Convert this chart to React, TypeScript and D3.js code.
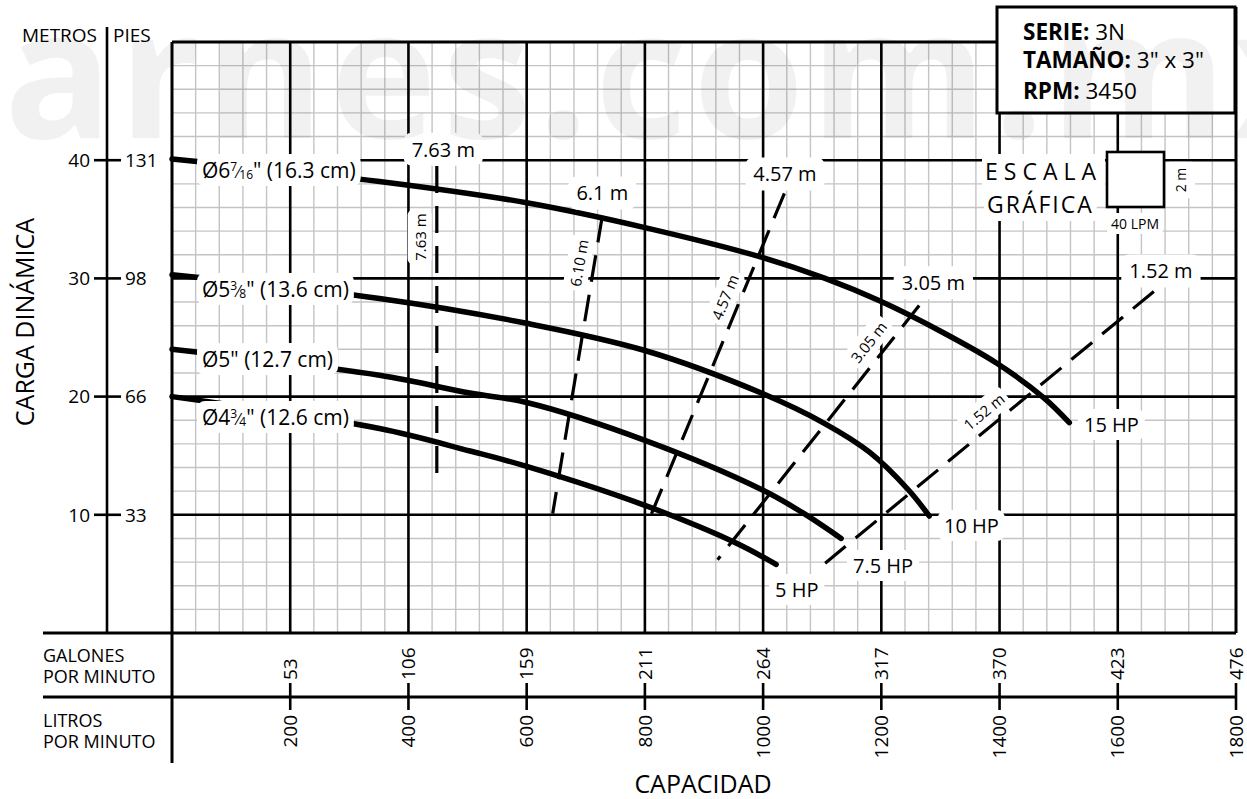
import React, { useEffect, useRef } from "react";
import * as d3 from "d3";

// ---------------- data ----------------
const lpmTicks = [200, 400, 600, 800, 1000, 1200, 1400, 1600, 1800];
const gpmTicks = [53, 106, 159, 211, 264, 317, 370, 423, 476];
const metrosTicks = [10, 20, 30, 40];
const piesTicks = [33, 66, 98, 131];

// head (m) vs capacity (LPM) for each impeller diameter
const curve163 = [[0, 40.1], [351, 38.2], [600, 36.4], [800, 34.3], [997, 31.8], [1105, 30.0], [1197, 28.1], [1305, 25.4], [1396, 22.8], [1475, 19.9], [1518, 17.8]];
const curve136 = [[0, 30.3], [351, 28.3], [600, 26.2], [800, 23.9], [997, 20.3], [1105, 17.7], [1180, 15.3], [1246, 12.1], [1281, 9.9]];
const curve127 = [[0, 24.0], [351, 21.8], [504, 20.3], [600, 19.5], [800, 16.3], [999, 12.1], [1066, 10.2], [1132, 8.0]];
const curve126 = [[0, 20.0], [351, 17.3], [504, 15.4], [600, 14.1], [800, 10.8], [955, 7.6], [1022, 5.8]];
const curves = [curve163, curve136, curve127, curve126];

const diamWhole = ["Ø6", "Ø5", "Ø5", "Ø4"];
const diamNum = ["7", "3", "", "3"];
const diamDen = ["16", "8", "", "4"];
const diamCm = ['" (16.3 cm)', '" (13.6 cm)', '" (12.7 cm)', '" (12.6 cm)'];
const hpLabels = ["15 HP", "10 HP", "7.5 HP", "5 HP"];

// NPSH lines (LPM, m): top point, bottom point
const npshNames = ["7.63 m", "6.1 m", "4.57 m", "3.05 m", "1.52 m"];
const npshSideNames = ["7.63 m", "6.10 m", "4.57 m", "3.05 m", "1.52 m"];
const npshLines = [
  [[448, 39.5], [448, 12.9]],
  [[728, 35.3], [644, 10.1]],
  [[1036, 37.2], [803, 9.1]],
  [[1264, 27.7], [923, 6.2]],
  [[1661, 28.9], [1105, 5.9]],
];

const infoKeys = ["SERIE:", "TAMAÑO:", "RPM:"];
const infoVals = [" 3N", ' 3" x 3"', " 3450"];

// ---------------- layout ----------------
const W = 1247;
const H = 799;
const FONT = "'Open Sans', 'Noto Sans', sans-serif";
const diamLabelPos = [[202, 178], [202, 297], [202, 367], [202, 425]];
const hpLabelPos = [[1084, 432], [944, 533], [853, 573], [775, 597]];
const npshTopPos = [[459, 40.3], [728, 36.6], [1037, 38.2], [1288, 29.0], [1673, 30.0]];
const npshSidePos = [[420, 33.5], [689, 31.3], [936, 28.4], [1179, 24.6], [1374, 18.7]];

export default function App() {
  const ref = useRef<SVGSVGElement>(null);

  useEffect(() => {
    const svg = d3.select(ref.current as SVGSVGElement);
    svg.selectAll("*").remove();

    const x = d3.scaleLinear().domain([0, 1800]).range([172, 1236]);
    const y = d3.scaleLinear().domain([0, 50]).range([633, 42]);

    svg.append("rect").attr("width", W).attr("height", H).attr("fill", "#fff");

    // ---- grid ----
    const grid = svg.append("g");
    const minorX = d3.range(0, 1801, 40).filter((v) => v % 200 !== 0);
    const minorY = d3.range(0, 51, 2).filter((v) => v % 10 !== 0);
    grid.selectAll("line.mx").data(minorX).join("line")
      .attr("x1", (d) => x(d)).attr("x2", (d) => x(d)).attr("y1", y(0)).attr("y2", y(50))
      .attr("stroke", "#c4c4c4").attr("stroke-width", 1.4);
    grid.selectAll("line.my").data(minorY).join("line")
      .attr("y1", (d) => y(d)).attr("y2", (d) => y(d)).attr("x1", x(0)).attr("x2", x(1800))
      .attr("stroke", "#c4c4c4").attr("stroke-width", 1.4);
    grid.selectAll("line.Mx").data(lpmTicks.filter((d) => d < 1800)).join("line")
      .attr("x1", (d) => x(d)).attr("x2", (d) => x(d)).attr("y1", y(0)).attr("y2", y(50))
      .attr("stroke", "#000").attr("stroke-width", 2.6);
    grid.selectAll("line.My").data(metrosTicks).join("line")
      .attr("y1", (d) => y(d)).attr("y2", (d) => y(d)).attr("x1", x(0)).attr("x2", x(1800))
      .attr("stroke", "#000").attr("stroke-width", 2.6);

    // frame
    const frame = svg.append("g").attr("stroke", "#000").attr("stroke-width", 3).attr("fill", "none");
    frame.append("line").attr("x1", x(0)).attr("x2", x(1800)).attr("y1", y(50)).attr("y2", y(50));
    frame.append("line").attr("x1", x(1800)).attr("x2", x(1800)).attr("y1", 7).attr("y2", y(0));
    frame.append("line").attr("x1", x(0)).attr("x2", x(0)).attr("y1", y(50)).attr("y2", 763);
    frame.append("line").attr("x1", 43).attr("x2", x(1800)).attr("y1", y(0)).attr("y2", y(0));
    frame.append("line").attr("x1", 43).attr("x2", x(1800)).attr("y1", 697).attr("y2", 697);
    frame.append("line").attr("x1", 107).attr("x2", 107).attr("y1", 27).attr("y2", y(0)).attr("stroke-width", 2.6);

    // ---- curves ----
    const line = d3.line<number[]>().x((d) => x(d[0])).y((d) => y(d[1])).curve(d3.curveCatmullRom.alpha(0.5));
    svg.append("g").selectAll("path").data(curves).join("path")
      .attr("d", (d) => line(d) as string)
      .attr("fill", "none").attr("stroke", "#000").attr("stroke-width", 5.5)
      .attr("stroke-linecap", "round");

    // ---- NPSH dashed lines ----
    const straight = d3.line<number[]>().x((d) => x(d[0])).y((d) => y(d[1]));
    svg.append("g").selectAll("path").data(npshLines).join("path")
      .attr("d", (d) => straight(d) as string)
      .attr("fill", "none").attr("stroke", "#000").attr("stroke-width", 3.2)
      .attr("stroke-dasharray", "27 13");

    // ---- label helper with white background ----
    const labels = svg.append("g").attr("font-family", FONT).attr("fill", "#000");
    function bgText(
      build: (t: any) => void,
      opts: { x: number; y: number; size: number; anchor?: string; rotate?: number; padX?: number; padY?: number; rx?: number; spacing?: number }
    ) {
      const g = labels.append("g");
      let t: any;
      if (opts.rotate !== undefined) {
        g.attr("transform", `translate(${opts.x},${opts.y}) rotate(${opts.rotate})`);
        t = g.append("text").attr("x", 0).attr("y", 0).attr("dy", "0.36em").attr("text-anchor", "middle");
      } else {
        t = g.append("text").attr("x", opts.x).attr("y", opts.y).attr("text-anchor", opts.anchor || "start");
      }
      t.attr("font-size", opts.size);
      if (opts.spacing) t.attr("letter-spacing", opts.spacing);
      build(t);
      const bb = (t.node() as SVGTextElement).getBBox();
      const px = opts.padX ?? 5;
      const py = opts.padY ?? 2;
      g.insert("rect", "text")
        .attr("x", bb.x - px).attr("y", bb.y - py)
        .attr("width", bb.width + 2 * px).attr("height", bb.height + 2 * py)
        .attr("rx", opts.rx ?? 8).attr("fill", "#fff");
    }

    // diameter labels
    diamWhole.forEach((w, i) => {
      bgText((t) => {
        t.append("tspan").text(w);
        if (diamNum[i]) {
          t.append("tspan").attr("font-size", 12).attr("dy", -7).text(diamNum[i]);
          t.append("tspan").attr("font-size", 16).attr("dy", 7).text("⁄");
          t.append("tspan").attr("font-size", 12).attr("dy", 1).text(diamDen[i]);
          t.append("tspan").attr("font-size", 21).attr("dy", -1).text(diamCm[i]);
        } else {
          t.append("tspan").text(diamCm[i]);
        }
      }, { x: diamLabelPos[i][0], y: diamLabelPos[i][1], size: 21, padX: 5, padY: 2 });
    });

    // HP labels
    hpLabels.forEach((h, i) => {
      bgText((t) => t.text(h), { x: hpLabelPos[i][0], y: hpLabelPos[i][1], size: 20, padX: 6, padY: 2 });
    });

    // NPSH labels
    npshNames.forEach((n, i) => {
      bgText((t) => t.text(n), {
        x: x(npshTopPos[i][0]), y: y(npshTopPos[i][1]), size: 20, anchor: "middle", padX: 8, padY: 3,
      });
      const [top, bot] = npshLines[i];
      const ang = (Math.atan2(y(top[1]) - y(bot[1]), x(top[0]) - x(bot[0])) * 180) / Math.PI;
      bgText((t) => t.text(npshSideNames[i]), {
        x: x(npshSidePos[i][0]), y: y(npshSidePos[i][1]), size: 15, rotate: ang, padX: 4, padY: 2, rx: 6,
      });
    });

    // ---- info box ----
    const box = svg.append("g").attr("font-family", FONT);
    box.append("rect").attr("x", 997).attr("y", 7).attr("width", 238).attr("height", 106)
      .attr("fill", "#fff").attr("stroke", "#000").attr("stroke-width", 3);
    const baselines = [40, 68, 99];
    infoKeys.forEach((k, i) => {
      const t = box.append("text").attr("x", 1023).attr("y", baselines[i]).attr("font-size", 22.5);
      t.append("tspan").attr("font-weight", 700).text(k);
      t.append("tspan").text(infoVals[i]);
    });

    // ---- graphic scale legend ----
    bgText((t) => t.text("ESCALA"), { x: 985, y: 180, size: 23, spacing: 6, padX: 3, padY: 1, rx: 4 });
    bgText((t) => t.text("GRÁFICA"), { x: 987, y: 213, size: 23, spacing: 2, padX: 3, padY: 1, rx: 4 });
    svg.append("rect").attr("x", 1107).attr("y", 152).attr("width", 57).attr("height", 55)
      .attr("fill", "#fff").attr("stroke", "#000").attr("stroke-width", 2.6);
    bgText((t) => t.text("2 m"), { x: 1181, y: 180, size: 14, rotate: -90, padX: 6, padY: 5, rx: 4 });
    bgText((t) => t.text("40 LPM"), { x: 1135, y: 229, size: 14, anchor: "middle", padX: 4, padY: 1, rx: 4 });

    // ---- axes text ----
    const ax = svg.append("g").attr("font-family", FONT).attr("fill", "#000");
    ax.append("text").attr("x", 22).attr("y", 42).attr("font-size", 19).text("METROS");
    ax.append("text").attr("x", 113).attr("y", 42).attr("font-size", 19).text("PIES");

    const ticksG = svg.append("g").attr("stroke", "#000").attr("stroke-width", 2.6);
    ticksG.selectAll("line.yt").data(metrosTicks).join("line")
      .attr("x1", 94).attr("x2", 121).attr("y1", (d) => y(d)).attr("y2", (d) => y(d));
    ax.selectAll("text.m").data(metrosTicks).join("text")
      .attr("x", 90).attr("y", (d) => y(d)).attr("dy", "0.36em").attr("text-anchor", "end")
      .attr("font-size", 19).text((d) => d);
    ax.selectAll("text.p").data(piesTicks).join("text")
      .attr("x", 125).attr("y", (d, i) => y(metrosTicks[i])).attr("dy", "0.36em")
      .attr("font-size", 19).text((d) => d);
    ax.append("text").attr("transform", "translate(34,322) rotate(-90)").attr("text-anchor", "middle")
      .attr("font-size", 25).text("CARGA DINÁMICA");

    ticksG.selectAll("line.xt").data(lpmTicks).join("line")
      .attr("x1", (d) => x(d)).attr("x2", (d) => x(d)).attr("y1", 683).attr("y2", 710);
    ax.selectAll("text.g").data(gpmTicks).join("text")
      .attr("transform", (d, i) => `translate(${x(lpmTicks[i])},680) rotate(-90)`)
      .attr("dy", "0.35em").attr("font-size", 19).text((d) => d);
    ax.selectAll("text.l").data(lpmTicks).join("text")
      .attr("transform", (d) => `translate(${x(d)},715) rotate(-90)`)
      .attr("dy", "0.35em").attr("text-anchor", "end").attr("font-size", 19).text((d) => d);

    ax.append("text").attr("x", 43).attr("y", 662).attr("font-size", 18).text("GALONES");
    ax.append("text").attr("x", 43).attr("y", 683).attr("font-size", 18).text("POR MINUTO");
    ax.append("text").attr("x", 43).attr("y", 727).attr("font-size", 18).text("LITROS");
    ax.append("text").attr("x", 43).attr("y", 748).attr("font-size", 18).text("POR MINUTO");
    ax.append("text").attr("x", 703).attr("y", 793).attr("text-anchor", "middle")
      .attr("font-size", 25).text("CAPACIDAD");

    // ---- watermark ----
    const wm = svg.append("text").attr("font-family", FONT).attr("font-weight", 700)
      .attr("font-size", 180).attr("x", 0).attr("y", 138)
      .attr("fill", "#000").attr("fill-opacity", 0.055).text("barnes.com.mx");
    const wn = wm.node() as SVGTextElement;
    const d0 = wn.getStartPositionOfChar(11).x - wn.getStartPositionOfChar(1).x;
    const ls = (1046 - d0) / 10;
    wm.attr("letter-spacing", ls);
    const aStart = wn.getStartPositionOfChar(1).x;
    wm.attr("x", 4 - aStart);
  }, []);

  return (
    <svg
      ref={ref}
      width={W}
      height={H}
      style={{ position: "absolute", left: 0, top: 0, display: "block" }}
    />
  );
}
